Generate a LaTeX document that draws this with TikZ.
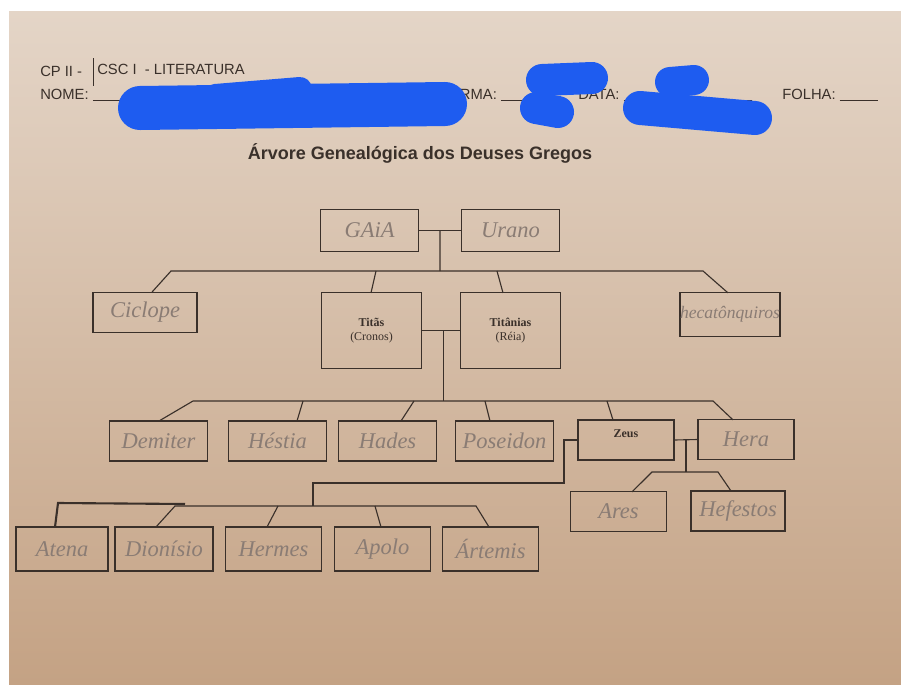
\documentclass[tikz,border=0pt]{standalone}
\usepackage{fontspec}
\setmainfont{Liberation Serif}
\setsansfont{Liberation Sans}
\usetikzlibrary{positioning}
\usetikzlibrary{calc}
\definecolor{paper}{RGB}{228,213,199}
\definecolor{papermid}{RGB}{224,204,187}
\definecolor{paperlow}{RGB}{196,162,132}
\definecolor{ink}{RGB}{58,48,42}
\definecolor{pencil}{RGB}{138,124,116}
\definecolor{blot}{RGB}{30,92,240}
\tikzstyle{box} = [rectangle,draw=ink,line width=0.8pt,inner sep=0pt,outer sep=0pt,
minimum width=2.45cm, minimum height=1.05cm]
\tikzstyle{hand} = [box,text=pencil,font=\fontsize{16}{16}\itshape\selectfont]
\tikzstyle{printed} = [box,text=ink,align=center,font=\fontsize{8.5}{10}\selectfont]
\tikzstyle{bus} = [draw=ink,line width=0.8pt]
\tikzstyle{header} = [inner sep=0pt,anchor=base west,text=ink,
font=\sffamily\fontsize{10.5}{10.5}\selectfont]
\tikzstyle{blob} = [draw=blot,line cap=round,line join=round]

\begin{document}
\begin{tikzpicture}[x=0.025cm,y=-0.025cm]
  \useasboundingbox (0,0) rectangle (901,684);
  \fill[white] (0,0) rectangle (901,684);
  \shade[top color=paper,middle color=papermid,bottom color=paperlow] (9,11) rectangle (901,684);

  % cabecalho
  \node[header] (cp) at (40,76) {CP II -};
  \draw[ink,line width=0.4pt] (93,58) -- (93,86);
  \node[header] (csc) at (97,74) {CSC I\ \ - LITERATURA};
  \node[header] (nome) at (40,99) {NOME: \rule[-1pt]{1.2cm}{0.5pt}};
  \node[header] (turma) at (440,99) {TURMA: \rule[-1pt]{1.3cm}{0.5pt}};
  \node[header] (data) at (578,99) {DATA: \rule[-1pt]{3.2cm}{0.5pt}};
  \node[header] (folha) at (782,99) {FOLHA: \rule[-1pt]{0.95cm}{0.5pt}};
  \draw[blob,line width=1.1cm] (140,108) -- (445,104);
  \draw[blob,line width=0.6cm] (215,96) -- (300,89);
  \draw[blob,line width=0.8cm] (542,80) -- (592,78);
  \draw[blob,line width=0.8cm] (536,108) -- (558,112);
  \draw[blob,line width=0.75cm] (670,82) -- (694,80);
  \draw[blob,line width=0.85cm] (640,108) -- (755,118);

  \node[text=ink,font=\sffamily\bfseries\fontsize{12.8}{12.8}\selectfont] (title)
    at (420,153) {Árvore Genealógica dos Deuses Gregos};

  % caixas
  \node[hand] (gaia) at (369.5,230.5) {GAiA};
  \node[hand] (urano) at (510.5,230.5) {Urano};
  \node[hand, minimum width=2.6cm, minimum height=1.02cm] (ciclope) at (145,312.5) {Ciclope};
  \node[printed, minimum width=2.52cm, minimum height=1.88cm] (titas) at (371.5,330.5)
    {\textbf{Titãs}\\(Cronos)};
  \node[printed, minimum width=2.48cm, minimum height=1.88cm] (titanias) at (510.5,330.5)
    {\textbf{Titânias}\\(Réia)};
  \node[hand, minimum height=1.08cm, font=\fontsize{12.5}{12.5}\itshape\selectfont] (hecat)
    at (730,314.5) {hecatônquiros};

  \node[hand, minimum height=1cm] (demeter) at (158.5,441) {Demiter};
  \node[hand, minimum height=1cm] (hestia) at (277.5,441) {Héstia};
  \node[hand, minimum height=1cm] (hades) at (387.5,441) {Hades};
  \node[hand, minimum height=1cm] (poseidon) at (504.5,441) {Poseidon};
  \node[printed, minimum width=2.4cm, minimum height=1cm] (zeus) at (626,440)
    {\raisebox{0.3cm}{\textbf{Zeus}}};
  \node[hand, minimum width=2.4cm, minimum height=0.98cm] (hera) at (746,439.5) {Hera};
  \node[hand, minimum width=2.38cm, minimum height=0.98cm] (ares) at (618.5,511.5) {Ares};
  \node[hand, minimum width=2.35cm, minimum height=1cm] (hefestos) at (738,511) {Hefestos};

  \node[hand, minimum width=2.3cm, minimum height=1.1cm] (atena) at (62,549) {Atena};
  \node[hand, minimum height=1.1cm] (dionisio) at (164,549) {Dionísio};
  \node[hand, minimum width=2.42cm, minimum height=1.1cm] (hermes) at (273.5,549) {Hermes};
  \node[hand, minimum width=2.38cm, minimum height=1.1cm] (apolo) at (382.5,549) {Apolo};
  \node[hand, minimum width=2.38cm, minimum height=1.1cm] (artemis) at (490.5,549) {Ártemis};

  % ligacoes
  \coordinate (gu) at ($(gaia.east)!0.5!(urano.west)$);
  \coordinate (b1) at (440,271);
  \coordinate (b1l) at (171,271);
  \coordinate (b1r) at (703,271);
  \draw[bus] (gaia.east) -- (urano.west);
  \draw[bus] (gu) -- (b1);
  \draw[bus] (ciclope.north -| 152,0) -- (b1l) -- (b1r) -- (hecat.north -| 728,0);
  \draw[bus] (b1 -| 376,0) -- (titas.north -| 371,0);
  \draw[bus] (b1 -| 497,0) -- (titanias.north -| 503,0);

  \coordinate (tt) at ($(titas.east)!0.55!(titanias.west)$);
  \coordinate (b2) at (tt |- 0,401);
  \coordinate (b2l) at (193,401);
  \coordinate (b2r) at (713,401);
  \draw[bus] (titas.east |- tt) -- (titanias.west |- tt);
  \draw[bus] (tt) -- (b2);
  \draw[bus] (demeter.north -| 159,0) -- (b2l) -- (b2r) -- (hera.north -| 733,0);
  \draw[bus] (b2 -| 303,0) -- (hestia.north -| 297,0);
  \draw[bus] (b2 -| 414,0) -- (hades.north -| 401,0);
  \draw[bus] (b2 -| 485,0) -- (poseidon.north -| 490,0);
  \draw[bus] (b2 -| 607,0) -- (zeus.north -| 613,0);

  \coordinate (zh) at ($(zeus.east)!0.5!(hera.west)$);
  \coordinate (b3) at (zh |- 0,472);
  \draw[bus] (zeus.east) -- (hera.west);
  \draw[bus] (zh) -- (b3);
  \draw[bus] (ares.north -| 632,0) -- (652,472) -- (718,472) -- (hefestos.north -| 731,0);

  \coordinate (b4k) at (564,483);
  \coordinate (b4) at (313,506);
  \coordinate (b4l) at (175,506);
  \coordinate (b4r) at (476,506);
  \draw[bus] (zeus.west) -- (zeus.west -| b4k) -- (b4k) -- (b4k -| b4) -- (b4);
  \draw[bus] (dionisio.north -| 156,0) -- (b4l) -- (b4r) -- (artemis.north -| 489,0);
  \draw[bus] (b4 -| 278,0) -- (hermes.north -| 267,0);
  \draw[bus] (b4 -| 375,0) -- (apolo.north -| 381,0);
  \draw[ink,line width=1.5pt] (atena.north -| 55,0) -- (58,503) -- (185,504);
\end{tikzpicture}
\end{document}
